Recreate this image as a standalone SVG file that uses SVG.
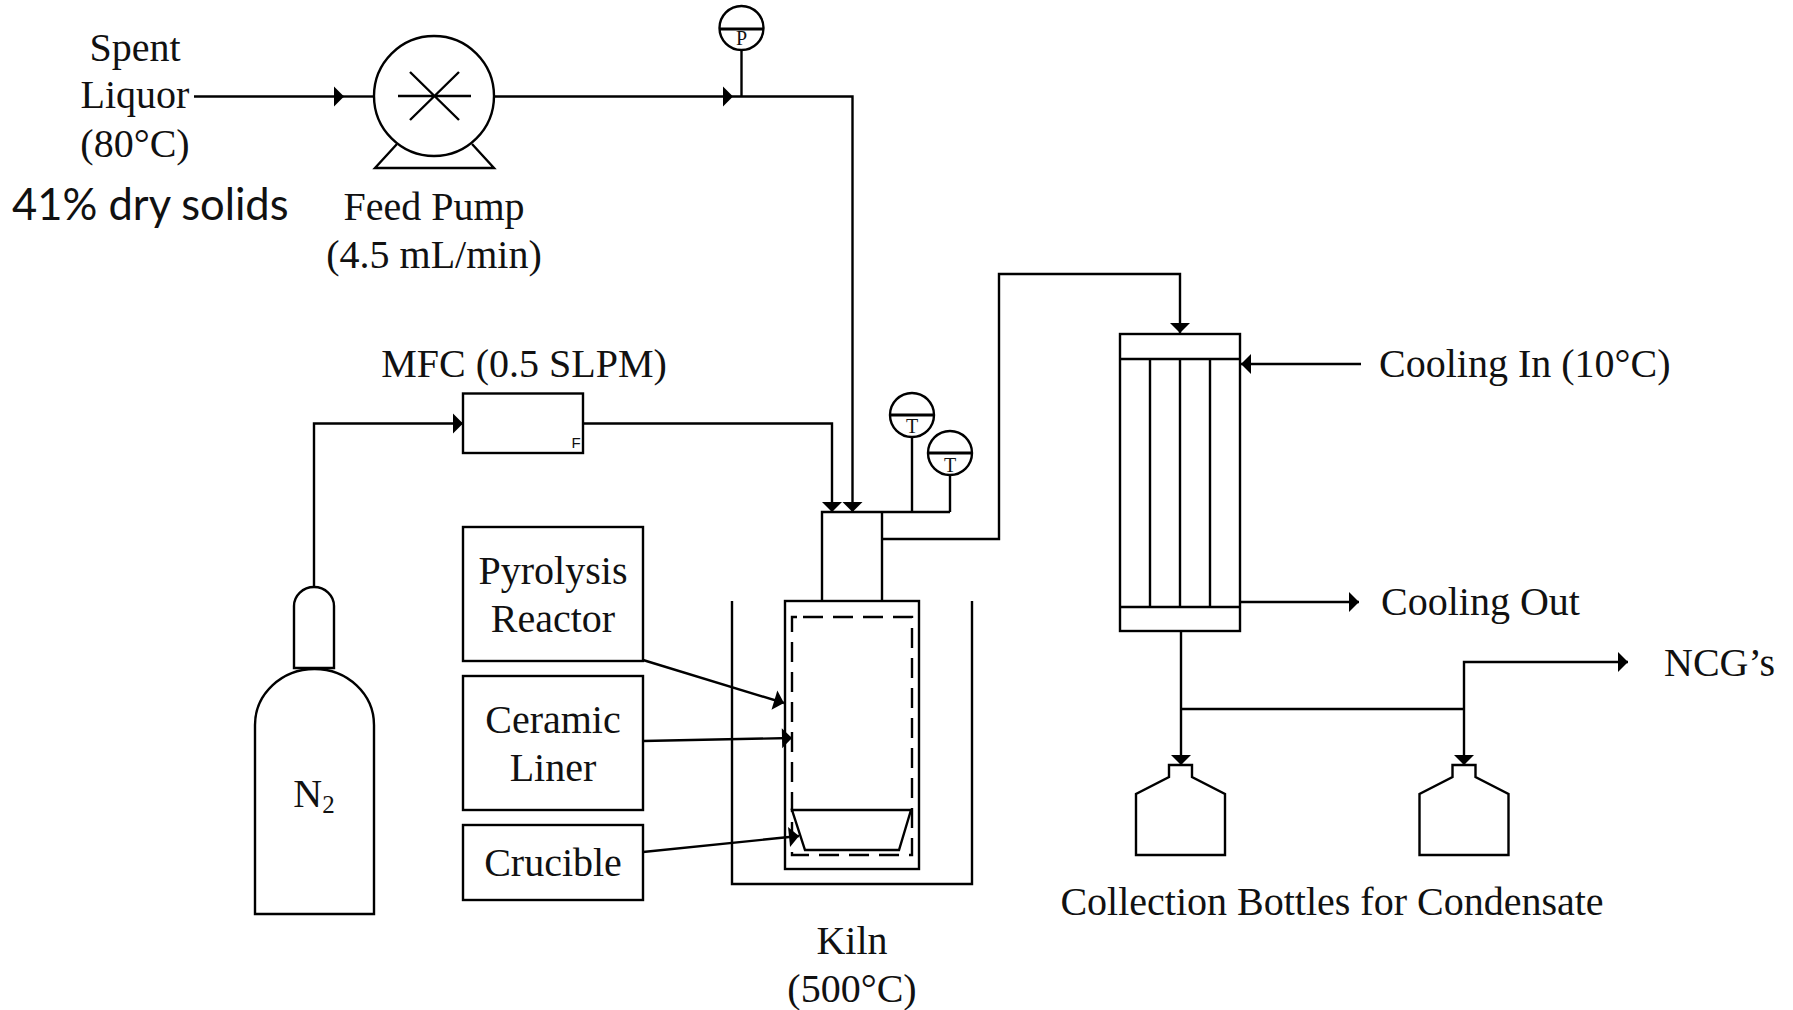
<svg xmlns="http://www.w3.org/2000/svg" width="1793" height="1010" viewBox="0 0 1793 1010">
<style>
.s{fill:none;stroke:#000;stroke-width:2.400;stroke-linejoin:miter}
.w{fill:#fff;stroke:#000;stroke-width:2.400}
.c{fill:none;stroke:#000;stroke-width:2.400;marker-end:url(#a)}
.n{fill:none;stroke:#000;stroke-width:2.400}
.b{fill:none;stroke:#000;stroke-width:3.200}
text{font-family:"Liberation Serif","Times New Roman",serif;font-size:40px;fill:#111}
.m{text-anchor:middle}
.g{font-size:20px}
</style>
<defs><marker id="a" markerUnits="userSpaceOnUse" markerWidth="11" markerHeight="22" refX="10" refY="10" orient="auto" overflow="visible"><path d="M0 0L10 10L0 20Z" fill="#000"/></marker></defs>
<rect width="1793" height="1010" fill="#fff"/>
<g id="connectors">
<path class="c" d="M194 96.500H344"/>
<path class="n" d="M344 96.500H374"/>
<path class="c" d="M494 96.500H733"/>
<path class="c" d="M733 96.500H852.500V512"/>
<path class="c" d="M314 587V423.500H463"/>
<path class="c" d="M583 423.500H832V512"/>
<path class="c" d="M882 539H999V274H1180V333"/>
<path class="c" d="M1361 364H1241"/>
<path class="c" d="M1240 602H1359"/>
<path class="c" d="M643 660L784 703"/>
<path class="c" d="M643 741L792 738"/>
<path class="c" d="M643 852L799 836"/>
<path class="c" d="M1181 631V765"/>
<path class="n" d="M1181 709H1464"/>
<path class="c" d="M1464 709V765"/>
<path class="c" d="M1464 709V662H1628"/>
</g>
<g id="pump">
<path class="s" d="M397 144L375 168H494L472 144"/>
<circle class="w" cx="434" cy="96" r="60"/>
<path class="n" d="M398 96H471M410 72L459 120M459 72L410 120"/>
</g>
<g id="pressure-gauge">
<path class="n" d="M741.500 50V96"/>
<circle class="w" cx="741.500" cy="28" r="22"/>
<path class="b" d="M719.500 29H763.500"/>
<text class="m g" x="741.500" y="45">P</text>
</g>
<g id="mfc">
<rect class="s" x="463" y="393.500" width="120" height="59.500"/>
<text class="m" style="font-family:'Liberation Sans',Arial,sans-serif;font-size:15px" x="576" y="448">F</text>
</g>
<g id="cylinder">
<path class="s" d="M294 668V606A20 19 0 0 1 334 606V668Z"/>
<path class="s" d="M255 914V725A59.500 56 0 0 1 374 725V914Z"/>
<text class="m" x="314" y="807">N<tspan font-size="25" dy="6">2</tspan></text>
</g>
<g id="reactor">
<path class="s" d="M732 601V884H972V601"/>
<path class="s" d="M822 601V512H950M882 512V601"/>
<rect class="s" x="785" y="601" width="134" height="268"/>
<path class="s" stroke-dasharray="20 10" d="M803 617H912V855H792V617H803"/>
<path class="s" d="M792 810H911L899 850H805Z"/>
</g>
<g id="temp-gauge-1">
<path class="n" d="M912 437V512"/>
<circle class="w" cx="912" cy="415" r="22"/>
<path class="b" d="M890 415H934"/>
<text class="m g" x="912" y="433">T</text>
</g>
<g id="temp-gauge-2">
<path class="n" d="M950 475V512"/>
<circle class="w" cx="950" cy="453" r="22"/>
<path class="b" d="M928 453H972"/>
<text class="m g" x="950" y="472">T</text>
</g>
<g id="condenser">
<rect class="s" x="1120" y="334" width="120" height="297"/>
<path class="n" d="M1120 359H1240M1120 607H1240M1150 359V607M1180 359V607M1210 359V607"/>
</g>
<g id="bottle-1">
<path class="s" d="M1169 765H1192V777L1225 794V855H1136V794L1169 777Z"/>
</g>
<g id="bottle-2">
<path class="s" d="M1452.500 765H1475.500V777L1508.500 794V855H1419.500V794L1452.500 777Z"/>
</g>
<g id="label-pyrolysis">
<rect class="s" x="463" y="527" width="180" height="134"/>
<text class="m" x="553" y="584">Pyrolysis</text>
<text class="m" x="553" y="632">Reactor</text>
</g>
<g id="label-ceramic">
<rect class="s" x="463" y="676" width="180" height="134"/>
<text class="m" x="553" y="733">Ceramic</text>
<text class="m" x="553" y="781">Liner</text>
</g>
<g id="label-crucible">
<rect class="s" x="463" y="825" width="180" height="75"/>
<text class="m" x="553" y="876">Crucible</text>
</g>
<g id="labels">
<text class="m" x="135" y="61">Spent</text>
<text class="m" x="135" y="108">Liquor</text>
<text class="m" x="135" y="157">(80°C)</text>
<text style="font-family:Lato,'Open Sans',sans-serif;font-size:43.500px" x="12" y="220">41% dry solids</text>
<text class="m" x="434" y="220">Feed Pump</text>
<text class="m" x="434" y="268">(4.5 mL/min)</text>
<text class="m" x="524" y="377">MFC (0.5 SLPM)</text>
<text x="1379" y="377">Cooling In (10°C)</text>
<text x="1381" y="615">Cooling Out</text>
<text x="1664" y="676">NCG’s</text>
<text class="m" x="1332" y="915">Collection Bottles for Condensate</text>
<text class="m" x="852" y="954">Kiln</text>
<text class="m" x="852" y="1002">(500°C)</text>
</g>
</svg>
